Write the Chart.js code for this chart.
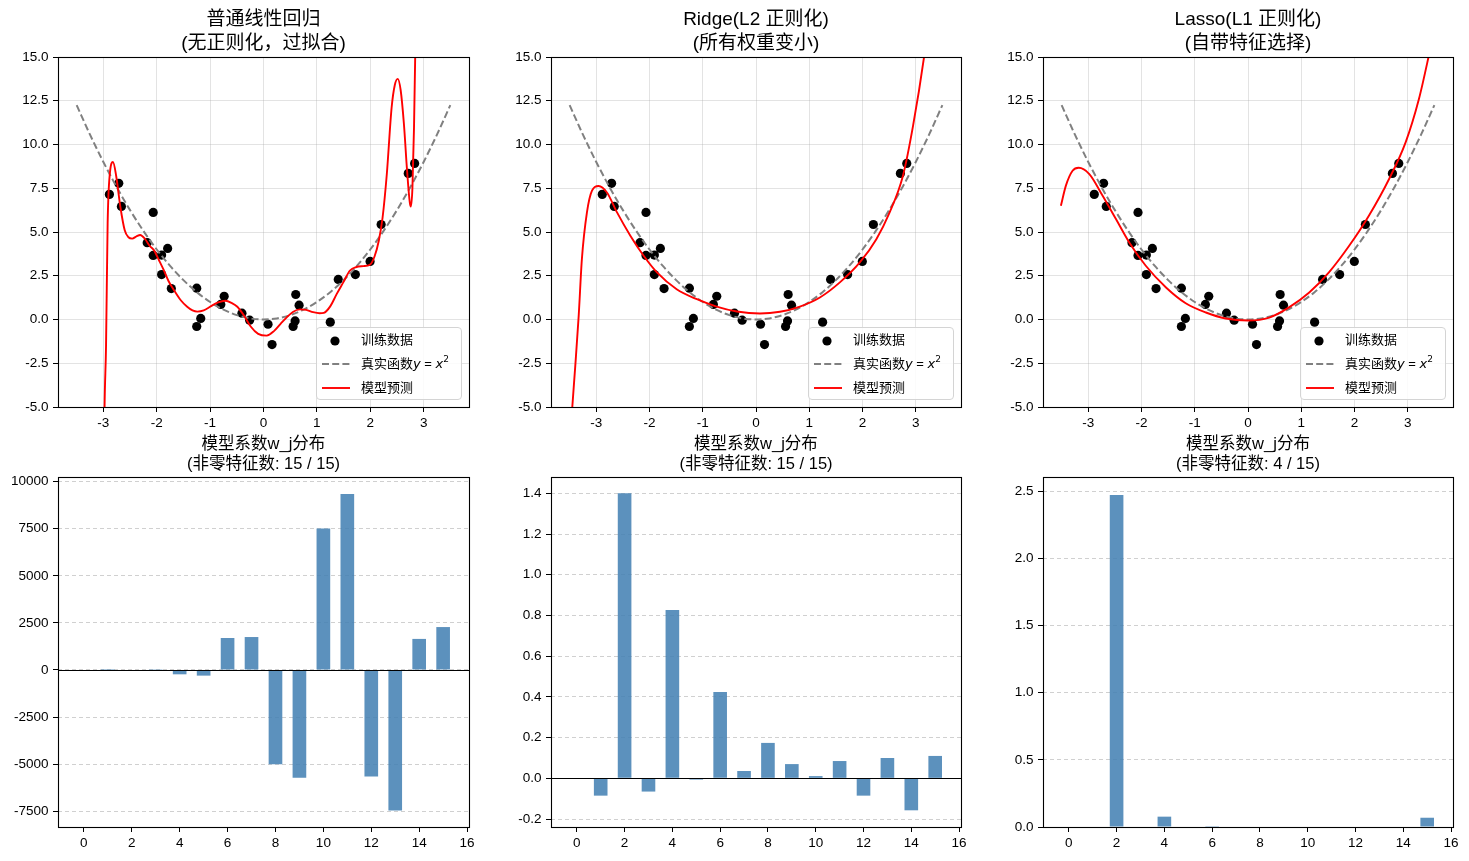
<!DOCTYPE html>
<html lang="zh-CN">
<head>
<meta charset="UTF-8">
<title>线性回归 / Ridge / Lasso 对比</title>
<style>
  body { margin: 0; background: #fff; font-family: "Liberation Sans", Arial, "Noto Sans CJK SC", sans-serif; }
  #fig { position: relative; width: 1469px; height: 861px; overflow: hidden; background: #fff; }
  .panel { position: absolute; }
  .title { position: absolute; text-align: center; color: #000; white-space: nowrap; transform: translateX(-50%); }
  .title.top { font-size: 19px; line-height: 23.5px; top: 7px; }
  .title.bot { font-size: 16.5px; line-height: 20px; top: 433px; }
  .legend {
    position: absolute; top: 327px; width: 146px; height: 73px; box-sizing: border-box;
    border: 1px solid #d4d4d4; border-radius: 4px; background: rgba(255,255,255,0.85);
    font-size: 13px; color: #000;
  }
  .legend .row { position: relative; height: 24px; }
  .legend svg { position: absolute; left: 4px; top: 0; }
  .legend span { position: absolute; left: 44px; top: 0; height: 24px; line-height: 24px; white-space: nowrap; }
  .legend i { font-family: "DejaVu Sans", sans-serif; font-size: 13px; line-height: 0; }
  .legend sup { font-family: "DejaVu Sans", sans-serif; font-size: 9px; line-height: 0; position: relative; top: -1px; }
</style>
</head>
<body>
<div id="fig">
  <div class="panel" style="left:0;top:0;width:490px;height:430px"><canvas id="top1"></canvas></div>
  <div class="panel" style="left:490px;top:0;width:490px;height:430px"><canvas id="top2"></canvas></div>
  <div class="panel" style="left:980px;top:0;width:489px;height:430px"><canvas id="top3"></canvas></div>
  <div class="panel" style="left:0;top:430px;width:490px;height:431px"><canvas id="bot1"></canvas></div>
  <div class="panel" style="left:490px;top:430px;width:490px;height:431px"><canvas id="bot2"></canvas></div>
  <div class="panel" style="left:980px;top:430px;width:489px;height:431px"><canvas id="bot3"></canvas></div>
</div>

<script src="https://cdn.jsdelivr.net/npm/chart.js"></script>
<script>
// ---- data ----
const trainX = [-2.887, -2.712, -2.662, -2.066, -2.179, -2.066, -1.909, -1.796, -1.909, -1.727,
                -1.251, -1.251, -1.176, -0.80, -0.737, -0.404, -0.26, 0.085, 0.16, 0.604,
                0.667, 0.592, 0.555, 1.251, 1.401, 1.721, 1.997, 2.204, 2.712, 2.831];
const trainY = [7.15, 7.78, 6.46, 6.12, 4.39, 3.66, 3.68, 4.06, 2.57, 1.77,
                1.79, -0.40, 0.06, 0.86, 1.33, 0.36, -0.04, -0.27, -1.43, 1.43,
                0.82, -0.08, -0.40, -0.15, 2.29, 2.57, 3.32, 5.43, 8.35, 8.92];

// true curve y = x^2, sampled
const trueX = [-3.5, -3.25, -3, -2.75, -2.5, -2.25, -2, -1.75, -1.5, -1.25, -1, -0.75, -0.5, -0.25, 0,
               0.25, 0.5, 0.75, 1, 1.25, 1.5, 1.75, 2, 2.25, 2.5, 2.75, 3, 3.25, 3.5];
const trueY = [12.25, 10.5625, 9, 7.5625, 6.25, 5.0625, 4, 3.0625, 2.25, 1.5625, 1, 0.5625, 0.25, 0.0625, 0,
               0.0625, 0.25, 0.5625, 1, 1.5625, 2.25, 3.0625, 4, 5.0625, 6.25, 7.5625, 9, 10.5625, 12.25];

// model predictions
const olsX = [-3.02, -2.98, -2.95, -2.92, -2.88, -2.82, -2.76, -2.68, -2.6, -2.53, -2.46, -2.38, -2.31,
              -2.22, -2.13, -2.05, -1.96, -1.87, -1.78, -1.68, -1.55, -1.43, -1.33, -1.24, -1.12, -0.99,
              -0.85, -0.71, -0.6, -0.49, -0.36, -0.24, -0.1, 0.06, 0.2, 0.32, 0.43, 0.55, 0.68, 0.8, 0.93,
              1.05, 1.13, 1.25, 1.37, 1.5, 1.62, 1.74, 1.87, 1.99, 2.08, 2.16, 2.23, 2.31, 2.4, 2.46,
              2.515, 2.57, 2.63, 2.69, 2.74, 2.76, 2.79, 2.82, 2.85, 2.9];
const olsY = [-20, -5.5, -1.5, 5.5, 8.3, 9.0, 8.2, 6.4, 5.1, 4.7, 4.62, 4.75, 4.83,
              4.6, 4.2, 3.95, 3.4, 2.83, 2.2, 1.69, 1.1, 0.73, 0.52, 0.45, 0.52, 0.75,
              0.98, 1.07, 0.95, 0.73, 0.2, -0.4, -0.82, -0.92, -0.65, -0.25, 0.11, 0.43, 0.58, 0.55, 0.42,
              0.36, 0.38, 0.75, 1.45, 2.15, 2.8, 3.0, 3.05, 3.12, 3.6, 4.5, 5.8, 8.3, 12.1, 13.4,
              13.75, 13.1, 11.2, 8.5, 6.7, 6.45, 7.5, 11, 16.5, 30];

const ridgeX = [-3.5, -3.45, -3.394, -3.33, -3.27, -3.175, -3.08, -2.956, -2.8, -2.61, -2.36, -2.11, -1.86,
                -1.49, -1.11, -0.74, -0.36, 0.075, 0.45, 0.825, 1.2, 1.575, 1.95, 2.26, 2.51, 2.76, 2.95,
                3.156, 3.3];
const ridgeY = [-7.5, -5, -2.65, 0.21, 3.45, 6.12, 7.36, 7.63, 7.26, 6.12, 4.79, 3.64, 2.69,
                1.73, 1.16, 0.74, 0.46, 0.34, 0.44, 0.74, 1.26, 2.12, 3.26, 4.59, 6.12, 8.22, 11.08,
                15.0, 18.5];

const lassoX = [-3.514, -3.42, -3.295, -3.18, -2.98, -2.73, -2.48, -2.23, -1.92, -1.54, -1.17, -0.79, -0.42,
                0.0, 0.40, 0.77, 1.15, 1.52, 1.90, 2.27, 2.65, 2.96, 3.21, 3.39, 3.5];
const lassoY = [6.5, 7.65, 8.50, 8.67, 8.31, 7.07, 5.74, 4.40, 3.07, 1.83, 0.93, 0.40, 0.06,
                -0.06, 0.11, 0.69, 1.54, 2.69, 4.21, 5.93, 8.03, 10.12, 12.6, 15.0, 16.6];

// coefficients w_j
const featureIdx = [0, 1, 2, 3, 4, 5, 6, 7, 8, 9, 10, 11, 12, 13, 14, 15];
const olsCoef = [0, 0.5, -2, 8, -230, -300, 1700, 1750, -5010, -5720, 7520, 9345, -5660, -7470, 1650, 2280];
const ridgeCoef = [0, -0.085, 1.40, -0.065, 0.827, -0.006, 0.424, 0.036, 0.174, 0.070, 0.011, 0.085, -0.085, 0.100, -0.157, 0.110];
const lassoCoef = [0, 0, 2.473, 0, 0.077, 0, 0.001, 0, 0, 0, 0, 0, 0, 0, 0, 0.069];

// tick values
const topXTicks = [-3, -2, -1, 0, 1, 2, 3];
const topYTicks = [-5, -2.5, 0, 2.5, 5, 7.5, 10, 12.5, 15];
const botXTicks = [0, 2, 4, 6, 8, 10, 12, 14, 16];
const olsYTicks = [-7500, -5000, -2500, 0, 2500, 5000, 7500, 10000];
const ridgeYTicks = [-0.2, 0, 0.2, 0.4, 0.6, 0.8, 1.0, 1.2, 1.4];
const lassoYTicks = [0, 0.5, 1.0, 1.5, 2.0, 2.5];

const topTitles = [['普通线性回归', '(无正则化，过拟合)'], ['Ridge(L2 正则化)', '(所有权重变小)'], ['Lasso(L1 正则化)', '(自带特征选择)']];
const botTitles = [['模型系数w_j分布', '(非零特征数: 15 / 15)'], ['模型系数w_j分布', '(非零特征数: 15 / 15)'], ['模型系数w_j分布', '(非零特征数: 4 / 15)']];
const legendLabels = ['训练数据', '真实函数', '模型预测'];

// ---- layout ----
const cols = [
  { left: 0,   yW: 58, padR: 21, plotL: 58,   plotR: 469 },
  { left: 490, yW: 61, padR: 19, plotL: 551,  plotR: 961 },
  { left: 980, yW: 63, padR: 16, plotL: 1043, plotR: 1453 }
];

Chart.defaults.font.family = '"Liberation Sans", Arial, "Noto Sans CJK SC", sans-serif';
Chart.defaults.font.size = 13.5;
Chart.defaults.color = '#000';

// axes frame (all four spines) + optional y=0 line
const framePlugin = {
  id: 'frame',
  afterDatasetsDraw(chart, args, opts) {
    const { ctx, chartArea: a, scales } = chart;
    ctx.save();
    ctx.strokeStyle = '#000';
    ctx.lineWidth = 1.1;
    if (opts.zeroLine) {
      const y0 = Math.round(scales.y.getPixelForValue(0)) + 0.5;
      ctx.beginPath();
      ctx.moveTo(a.left, y0);
      ctx.lineTo(a.right, y0);
      ctx.stroke();
    }
    ctx.strokeRect(Math.round(a.left) + 0.5, Math.round(a.top) + 0.5,
                   Math.round(a.right - a.left), Math.round(a.bottom - a.top));
    ctx.restore();
  }
};
Chart.register(framePlugin);

function pts(xs, ys) {
  return xs.map((x, i) => ({ x: x, y: ys[i] }));
}

function fixedTicks(values) {
  return scale => { scale.ticks = values.map(v => ({ value: v })); };
}

function topChart(id, col, fitX, fitY) {
  new Chart(document.getElementById(id), {
    type: 'scatter',
    data: {
      datasets: [
        { type: 'line', label: legendLabels[2], data: pts(fitX, fitY), borderColor: '#ff0000', borderWidth: 1.9,
          pointRadius: 0, cubicInterpolationMode: 'monotone', clip: 0, order: 1 },
        { type: 'line', label: legendLabels[1], data: pts(trueX, trueY), borderColor: '#808080', borderWidth: 2,
          borderDash: [7, 3.2], pointRadius: 0, cubicInterpolationMode: 'monotone', clip: 0, order: 2 },
        { label: legendLabels[0], data: pts(trainX, trainY), backgroundColor: '#000', borderWidth: 0,
          pointRadius: 4.6, order: 3 }
      ]
    },
    options: {
      animation: false,
      responsive: true,
      maintainAspectRatio: false,
      layout: { padding: { top: 57, right: col.padR, left: 0, bottom: 0 } },
      plugins: { legend: { display: false }, tooltip: { enabled: false }, frame: { zeroLine: false } },
      scales: {
        x: {
          type: 'linear', min: -3.85, max: 3.85,
          afterBuildTicks: fixedTicks(topXTicks),
          ticks: { padding: 3.5, callback: v => String(v) },
          grid: { color: 'rgba(176,176,176,0.35)', tickColor: '#000', tickLength: 5 },
          border: { display: false },
          afterFit: s => { s.height = 23; }
        },
        y: {
          type: 'linear', min: -5, max: 15,
          afterBuildTicks: fixedTicks(topYTicks),
          ticks: { padding: 4.5, callback: v => v.toFixed(1) },
          grid: { color: 'rgba(176,176,176,0.35)', tickColor: '#000', tickLength: 5 },
          border: { display: false },
          afterFit: s => { s.width = col.yW; }
        }
      }
    }
  });
}

function botChart(id, col, coef, yMin, yMax, yTicks, fmt) {
  new Chart(document.getElementById(id), {
    type: 'bar',
    data: {
      datasets: [{ data: pts(featureIdx, coef), backgroundColor: 'rgba(70,130,180,0.88)',
                   barPercentage: 0.57, categoryPercentage: 1 }]
    },
    options: {
      animation: false,
      responsive: true,
      maintainAspectRatio: false,
      layout: { padding: { top: 47, right: col.padR, left: 0, bottom: 0 } },
      plugins: { legend: { display: false }, tooltip: { enabled: false }, frame: { zeroLine: true } },
      scales: {
        x: {
          type: 'linear', offset: false, min: -1.08, max: 16.08,
          afterBuildTicks: fixedTicks(botXTicks),
          ticks: { padding: 3.5, callback: v => String(v) },
          grid: { offset: false, drawOnChartArea: false, tickColor: '#000', tickLength: 5 },
          border: { display: false },
          afterFit: s => { s.height = 34; }
        },
        y: {
          type: 'linear', min: yMin, max: yMax,
          afterBuildTicks: fixedTicks(yTicks),
          ticks: { padding: 4.5, callback: fmt },
          grid: { color: 'rgba(150,150,150,0.45)', tickColor: '#000', tickLength: 5, tickBorderDash: [] },
          border: { display: false, dash: [4, 3] },
          afterFit: s => { s.width = col.yW; }
        }
      }
    }
  });
}

topChart('top1', cols[0], olsX, olsY);
topChart('top2', cols[1], ridgeX, ridgeY);
topChart('top3', cols[2], lassoX, lassoY);

botChart('bot1', cols[0], olsCoef, -8340, 10250, olsYTicks, v => String(Math.round(v)));
botChart('bot2', cols[1], ridgeCoef, -0.239, 1.48, ridgeYTicks, v => v.toFixed(1));
botChart('bot3', cols[2], lassoCoef, 0, 2.607, lassoYTicks, v => v.toFixed(1));

// titles and legends
const fig = document.getElementById('fig');
cols.forEach((c, i) => {
  const cx = (c.plotL + c.plotR) / 2;
  const t = document.createElement('div');
  t.className = 'title top';
  t.style.left = cx + 'px';
  t.innerHTML = topTitles[i][0] + '<br>' + topTitles[i][1];
  fig.appendChild(t);

  const b = document.createElement('div');
  b.className = 'title bot';
  b.style.left = cx + 'px';
  b.innerHTML = botTitles[i][0] + '<br>' + botTitles[i][1];
  fig.appendChild(b);

  const lg = document.createElement('div');
  lg.className = 'legend';
  lg.style.left = (c.plotR - 7 - 146) + 'px';
  lg.innerHTML =
    '<div class="row"><svg width="30" height="24"><circle cx="14" cy="13" r="4.6" fill="#000"/></svg>' +
    '<span>' + legendLabels[0] + '</span></div>' +
    '<div class="row"><svg width="30" height="24"><line x1="1" y1="12" x2="29" y2="12" stroke="#808080" stroke-width="2" stroke-dasharray="7,3.2"/></svg>' +
    '<span>' + legendLabels[1] + '<i>y</i> = <i>x</i><sup>2</sup></span></div>' +
    '<div class="row"><svg width="30" height="24"><line x1="1" y1="12" x2="29" y2="12" stroke="#ff0000" stroke-width="1.9"/></svg>' +
    '<span>' + legendLabels[2] + '</span></div>';
  fig.appendChild(lg);
});
</script>
</body>
</html>
